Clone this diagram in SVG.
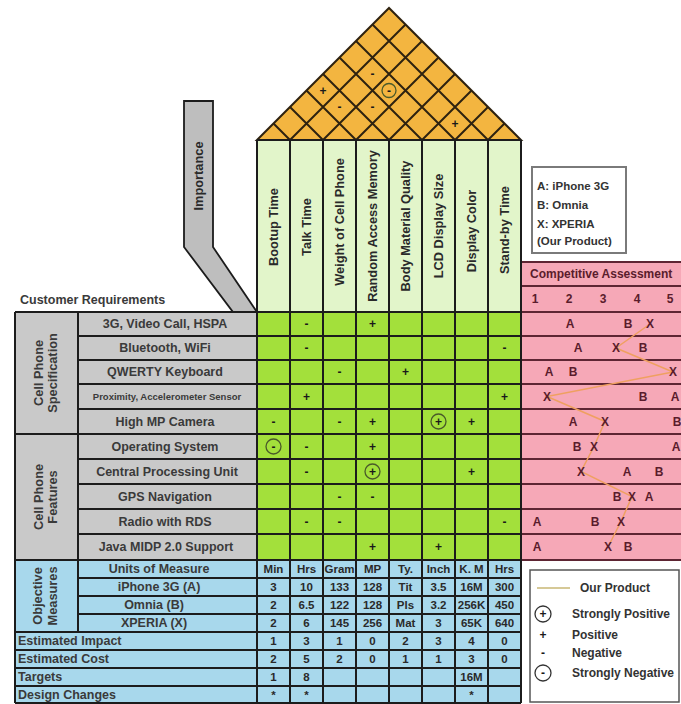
<svg xmlns="http://www.w3.org/2000/svg" width="681" height="704" viewBox="0 0 681 704">
<defs>
<style>
text{font-family:"Liberation Sans",Arial,sans-serif;font-weight:bold;fill:#333}
.hdr{font-size:12.8px;text-anchor:middle;dominant-baseline:central;fill:#2a2a2a}
.lbl{font-size:12.5px;text-anchor:middle;dominant-baseline:central;fill:#3a3a3a}
.grp{font-size:12.8px;text-anchor:middle;dominant-baseline:central;fill:#3a3a3a}
.left{font-size:12.5px;dominant-baseline:central;fill:#3a3a3a}
.val{font-size:11.5px;text-anchor:middle;dominant-baseline:central;fill:#2a2a2a}
.sym{font-size:12px;text-anchor:middle;dominant-baseline:central;fill:#1a1a1a}
.ca{font-size:12px;text-anchor:middle;dominant-baseline:central;fill:#5a1c2c}
.leg{font-size:11.5px;fill:#333}
.ln{stroke:#1c1c1c;stroke-width:2;fill:none}
.pk{stroke:#5e2533;stroke-width:2;fill:none}
.rf{stroke:#2e2210;stroke-width:2;fill:none}
.circ{fill:none;stroke:#4a5a2a;stroke-width:1.3}
</style>
</defs>
<rect width="681" height="704" fill="#ffffff"/>

<g id="roof">
<polygon points="257,140 389,8 521,140" fill="#F3B540" stroke="#2e2210" stroke-width="2"/>
<path class="rf" d="M290,140L405.5,24.5M323,140L422,41M356,140L438.5,57.5M389,140L455,74M422,140L471.5,90.5M455,140L488,107M488,140L504.5,123.5M290,140L273.5,123.5M323,140L290,107M356,140L306.5,90.5M389,140L323,74M422,140L339.5,57.5M455,140L356,41M488,140L372.5,24.5"/>
<text class="sym" x="372.5" y="74">-</text>
<text class="sym" x="323" y="90.5">+</text>
<circle class="circ" cx="389" cy="90.5" r="7"/>
<text class="sym" x="389" y="90.5">-</text>
<text class="sym" x="339.5" y="107">-</text>
<text class="sym" x="372.5" y="107">-</text>
<text class="sym" x="455" y="123.5">+</text>
</g>

<g id="importance">
<polygon points="184,101 213,101 213,247 257,312 233,312 184,247" fill="#BEBEBE" stroke="#1c1c1c" stroke-width="1.8"/>
<text class="hdr" transform="translate(198,176) rotate(-90)">Importance</text>
</g>

<g id="header">
<rect x="257" y="140" width="264" height="172" fill="#E2F5CA"/>
<text class="hdr" transform="translate(273.5,227) rotate(-90)">Bootup Time</text>
<text class="hdr" transform="translate(306.5,227) rotate(-90)">Talk Time</text>
<text class="hdr" transform="translate(339.5,222) rotate(-90)">Weight of Cell Phone</text>
<text class="hdr" transform="translate(372.5,226) rotate(-90)">Random Access Memory</text>
<text class="hdr" transform="translate(405.5,226) rotate(-90)">Body Material Quality</text>
<text class="hdr" transform="translate(438.5,226) rotate(-90)">LCD Display Size</text>
<text class="hdr" transform="translate(471.5,231) rotate(-90)">Display Color</text>
<text class="hdr" transform="translate(504.5,230) rotate(-90)">Stand-by Time</text>
</g>

<g id="customer-requirements">
<text class="left" x="20" y="300">Customer Requirements</text>
<rect x="15" y="312" width="242" height="248" fill="#C9C9C9"/>
<text class="grp" transform="translate(38,373) rotate(-90)">Cell Phone</text>
<text class="grp" transform="translate(52,373) rotate(-90)">Specification</text>
<text class="grp" transform="translate(38,497) rotate(-90)">Cell Phone</text>
<text class="grp" transform="translate(52,497) rotate(-90)">Features</text>
<text class="lbl" x="165" y="324">3G, Video Call, HSPA</text>
<text class="lbl" x="165" y="348">Bluetooth, WiFi</text>
<text class="lbl" x="165" y="372">QWERTY Keyboard</text>
<text class="lbl" x="167" y="396.5" style="font-size:9.5px">Proximity, Accelerometer Sensor</text>
<text class="lbl" x="165" y="421.5">High MP Camera</text>
<text class="lbl" x="165" y="446.5">Operating System</text>
<text class="lbl" x="167" y="471.5">Central Processing Unit</text>
<text class="lbl" x="165" y="496.5">GPS Navigation</text>
<text class="lbl" x="165" y="521.5">Radio with RDS</text>
<text class="lbl" x="166" y="547">Java MIDP 2.0 Support</text>
</g>

<g id="matrix">
<rect x="257" y="312" width="264" height="248" fill="#A3E03B"/>
<text class="sym" x="306.5" y="324">-</text><text class="sym" x="372.5" y="324">+</text>
<text class="sym" x="306.5" y="348">-</text><text class="sym" x="504.5" y="348">-</text>
<text class="sym" x="339.5" y="372">-</text><text class="sym" x="405.5" y="372">+</text>
<text class="sym" x="306.5" y="396.5">+</text><text class="sym" x="504.5" y="396.5">+</text>
<text class="sym" x="273.5" y="421.5">-</text><text class="sym" x="339.5" y="421.5">-</text><text class="sym" x="372.5" y="421.5">+</text>
<circle class="circ" cx="438.5" cy="421.5" r="7.5"/><text class="sym" x="438.5" y="421.5">+</text><text class="sym" x="471.5" y="421.5">+</text>
<circle class="circ" cx="273.5" cy="446.5" r="7.5"/><text class="sym" x="273.5" y="446.5">-</text><text class="sym" x="306.5" y="446.5">-</text><text class="sym" x="372.5" y="446.5">+</text>
<text class="sym" x="306.5" y="471.5">-</text><circle class="circ" cx="372.5" cy="471.5" r="7.5"/><text class="sym" x="372.5" y="471.5">+</text><text class="sym" x="471.5" y="471.5">+</text>
<text class="sym" x="339.5" y="496.5">-</text><text class="sym" x="372.5" y="496.5">-</text>
<text class="sym" x="306.5" y="521.5">-</text><text class="sym" x="339.5" y="521.5">-</text><text class="sym" x="504.5" y="521.5">-</text>
<text class="sym" x="372.5" y="547">+</text><text class="sym" x="438.5" y="547">+</text>
</g>

<g id="measures">
<rect x="15" y="560" width="506" height="143" fill="#A8D8EC"/>
<text class="grp" transform="translate(37,596) rotate(-90)">Objective</text>
<text class="grp" transform="translate(52,596) rotate(-90)">Measures</text>
<text class="lbl" x="159" y="569">Units of Measure</text>
<text class="lbl" x="159" y="587">iPhone 3G (A)</text>
<text class="lbl" x="154" y="605">Omnia (B)</text>
<text class="lbl" x="154" y="623">XPERIA (X)</text>
<text class="left" x="18" y="641">Estimated Impact</text>
<text class="left" x="18" y="659">Estimated Cost</text>
<text class="left" x="18" y="677">Targets</text>
<text class="left" x="18" y="694.5">Design Changes</text>
<g>
<text class="val" x="273.5" y="569">Min</text><text class="val" x="306.5" y="569">Hrs</text><text class="val" x="339.5" y="569">Gram</text><text class="val" x="372.5" y="569">MP</text><text class="val" x="405.5" y="569">Ty.</text><text class="val" x="438.5" y="569">Inch</text><text class="val" x="471.5" y="569">K. M</text><text class="val" x="504.5" y="569">Hrs</text>
<text class="val" x="273.5" y="587">3</text><text class="val" x="306.5" y="587">10</text><text class="val" x="339.5" y="587">133</text><text class="val" x="372.5" y="587">128</text><text class="val" x="405.5" y="587">Tit</text><text class="val" x="438.5" y="587">3.5</text><text class="val" x="471.5" y="587">16M</text><text class="val" x="504.5" y="587">300</text>
<text class="val" x="273.5" y="605">2</text><text class="val" x="306.5" y="605">6.5</text><text class="val" x="339.5" y="605">122</text><text class="val" x="372.5" y="605">128</text><text class="val" x="405.5" y="605">Pls</text><text class="val" x="438.5" y="605">3.2</text><text class="val" x="471.5" y="605">256K</text><text class="val" x="504.5" y="605">450</text>
<text class="val" x="273.5" y="623">2</text><text class="val" x="306.5" y="623">6</text><text class="val" x="339.5" y="623">145</text><text class="val" x="372.5" y="623">256</text><text class="val" x="405.5" y="623">Mat</text><text class="val" x="438.5" y="623">3</text><text class="val" x="471.5" y="623">65K</text><text class="val" x="504.5" y="623">640</text>
<text class="val" x="273.5" y="641">1</text><text class="val" x="306.5" y="641">3</text><text class="val" x="339.5" y="641">1</text><text class="val" x="372.5" y="641">0</text><text class="val" x="405.5" y="641">2</text><text class="val" x="438.5" y="641">3</text><text class="val" x="471.5" y="641">4</text><text class="val" x="504.5" y="641">0</text>
<text class="val" x="273.5" y="659">2</text><text class="val" x="306.5" y="659">5</text><text class="val" x="339.5" y="659">2</text><text class="val" x="372.5" y="659">0</text><text class="val" x="405.5" y="659">1</text><text class="val" x="438.5" y="659">1</text><text class="val" x="471.5" y="659">3</text><text class="val" x="504.5" y="659">0</text>
<text class="val" x="273.5" y="677">1</text><text class="val" x="306.5" y="677">8</text><text class="val" x="471.5" y="677">16M</text>
<text class="val" x="273.5" y="695">*</text><text class="val" x="306.5" y="695">*</text><text class="val" x="471.5" y="695">*</text>
</g>
</g>

<g id="competitive">
<rect x="521" y="262" width="160" height="298" fill="#F6A8B7"/>
<text class="ca" x="530" y="274" style="text-anchor:start">Competitive Assessment</text>
<text class="ca" x="535" y="299">1</text><text class="ca" x="569" y="299">2</text><text class="ca" x="603" y="299">3</text><text class="ca" x="637" y="299">4</text><text class="ca" x="670" y="299">5</text>
<path class="pk" d="M521,262H681M521,286H681M521,312H681M521,336H681M521,360H681M521,384H681M521,409H681M521,434H681M521,459H681M521,484H681M521,509H681M521,534H681M521,560H681"/>
<path d="M650,324L616,348L673,372L547,396.5L605,421.5L594,446.5L581,471.5L632,496.5L621,521.5L608,547" fill="none" stroke="#EFA060" stroke-width="1.5"/>
<text class="ca" x="570" y="324">A</text><text class="ca" x="628" y="324">B</text><text class="ca" x="650" y="324">X</text>
<text class="ca" x="578" y="348">A</text><text class="ca" x="616" y="348">X</text><text class="ca" x="643" y="348">B</text>
<text class="ca" x="549" y="372">A</text><text class="ca" x="573" y="372">B</text><text class="ca" x="673" y="372">X</text>
<text class="ca" x="547" y="396.5">X</text><text class="ca" x="643" y="396.5">B</text><text class="ca" x="675" y="396.5">A</text>
<text class="ca" x="573" y="421.5">A</text><text class="ca" x="605" y="421.5">X</text><text class="ca" x="677" y="421.5">B</text>
<text class="ca" x="577" y="446.5">B</text><text class="ca" x="594" y="446.5">X</text><text class="ca" x="676" y="446.5">A</text>
<text class="ca" x="581" y="471.5">X</text><text class="ca" x="627" y="471.5">A</text><text class="ca" x="659" y="471.5">B</text>
<text class="ca" x="617" y="496.5">B</text><text class="ca" x="632" y="496.5">X</text><text class="ca" x="649" y="496.5">A</text>
<text class="ca" x="537" y="521.5">A</text><text class="ca" x="595" y="521.5">B</text><text class="ca" x="621" y="521.5">X</text>
<text class="ca" x="537" y="547">A</text><text class="ca" x="608" y="547">X</text><text class="ca" x="628" y="547">B</text>
</g>

<g id="connectors">
<path class="ln" d="M257,140H521M257,140V703M290,140V703M323,140V703M356,140V703M389,140V703M422,140V703M455,140V703M488,140V703M521,140V703"/>
<path class="ln" d="M15,312H521M15,312V703M78,312V632M78,336H521M78,360H521M78,384H521M78,409H521M15,434H521M78,459H521M78,484H521M78,509H521M78,534H521M15,560H521M78,578H521M78,596H521M78,614H521M15,632H521M15,650H521M15,668H521M15,686H521M15,703H521"/>
</g>

<g id="legend-products">
<rect x="532" y="167" width="94" height="86" fill="#ffffff" stroke="#7a7a7a" stroke-width="2"/>
<text class="leg" x="537" y="190">A: iPhone 3G</text>
<text class="leg" x="537" y="209">B: Omnia</text>
<text class="leg" x="537" y="228">X: XPERIA</text>
<text class="leg" x="537" y="245">(Our Product)</text>
</g>

<g id="legend-symbols">
<rect x="530" y="570" width="149" height="132" fill="#ffffff" stroke="#555" stroke-width="1.5"/>
<line x1="537" y1="588" x2="570" y2="588" stroke="#C9B774" stroke-width="1.5"/>
<text class="leg" x="580" y="592" style="font-size:12px">Our Product</text>
<circle cx="543" cy="614" r="8" fill="none" stroke="#333" stroke-width="1.3"/>
<text class="sym" x="543" y="614">+</text>
<text class="leg" x="572" y="618" style="font-size:12px">Strongly Positive</text>
<text class="sym" x="543" y="635">+</text>
<text class="leg" x="572" y="639" style="font-size:12px">Positive</text>
<text class="sym" x="543" y="653">-</text>
<text class="leg" x="572" y="657" style="font-size:12px">Negative</text>
<circle cx="543" cy="673" r="8" fill="none" stroke="#333" stroke-width="1.3"/>
<text class="sym" x="543" y="673">-</text>
<text class="leg" x="572" y="677" style="font-size:12px">Strongly Negative</text>
</g>
</svg>
